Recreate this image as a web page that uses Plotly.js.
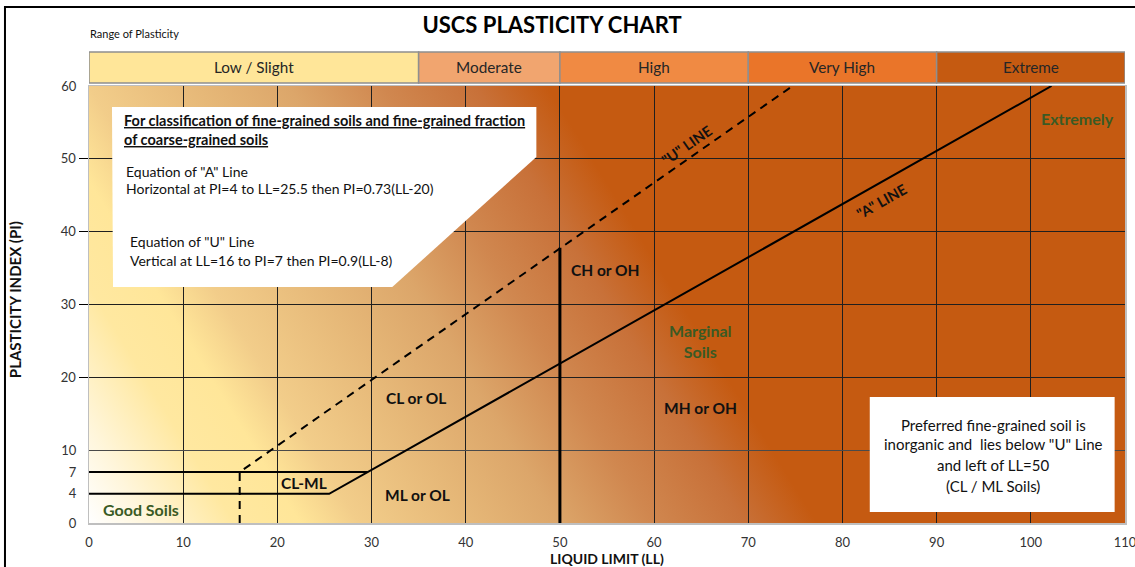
<!DOCTYPE html>
<html>
<head>
<meta charset="utf-8">
<script src="https://cdn.plot.ly/plotly-3.0.1.min.js"></script>
<style>html,body{margin:0;padding:0;background:#fff;}#chart{width:1135px;height:567px;}</style>
</head>
<body>
<div id="chart"></div>
<script>
// ---- data ----
const xTicks = [0, 10, 20, 30, 40, 50, 60, 70, 80, 90, 100, 110];
const yTicksMain = [20, 30, 40, 50];
const yTicksGrid10 = [10];
const yTicksPlain = [0, 4, 7, 60];

const aLineLL = [0, 25.5, 102.2];
const aLinePI = [4, 4, 60];
const pi7LL = [0, 29.6];
const pi7PI = [7, 7];
const uLineLL = [16, 16, 74.7];
const uLinePI = [0, 7, 60];
const ll50LL = [50, 50];
const ll50PI = [0, 37.8];

const bandNames = ['Low / Slight', 'Moderate', 'High', 'Very High', 'Extreme'];
const bandStart = [0, 35, 50, 70, 90];
const bandEnd = [35, 50, 70, 90, 110];
const bandColors = ['#FFE699', '#F1A56F', '#F08A43', '#EA7529', '#C55A11'];

const zoneLabels = ['CL or OL', 'ML or OL', 'CL-ML', 'CH or OH', 'MH or OH'];
const zoneLL = [34.7, 34.9, 22.8, 54.8, 64.9];
const zonePI = [17.2, 3.85, 5.5, 34.7, 15.8];

const greenLabels = ['Good Soils', 'Marginal<br>Soils', 'Extremely'];
const greenLL = [5.5, 64.9, 105.0];
const greenPI = [1.8, 25.0, 55.6];

const boxLines = [
  '<u><b>For classification of fine-grained soils and fine-grained fraction</b></u>',
  '<u><b>of coarse-grained soils</b></u>',
  'Equation of "A" Line',
  'Horizontal at PI=4 to LL=25.5 then PI=0.73(LL-20)',
  'Equation of "U" Line',
  'Vertical at LL=16 to PI=7 then PI=0.9(LL-8)'
];
const boxLineLL = [3.5, 3.5, 3.7, 3.7, 4.1, 4.1];
const boxLinePI = [55.2, 52.6, 48.3, 45.9, 38.7, 36.1];
const boxLineBold = [true, true, false, false, false, false];

const noteLines = ['Preferred fine-grained soil is', 'inorganic and  lies below "U" Line', 'and left of LL=50', '(CL / ML Soils)'];
const notePI = [13.5, 10.85, 7.96, 5.1];

// ---- styling ----
const FONT = 'Lato, "Open Sans", sans-serif';
const GRID = '#1f1f1f';
const GREEN = '#3A5A24';

const gradSvg = "<svg xmlns='http://www.w3.org/2000/svg' width='1036' height='437' viewBox='0 0 1036 437' preserveAspectRatio='none'>" +
  "<defs><linearGradient id='g' gradientUnits='userSpaceOnUse' x1='0' y1='437' x2='527' y2='111.5'>" +
  "<stop offset='0' stop-color='#FFFFFF'/>" +
  "<stop offset='0.08' stop-color='#FFF6DC'/>" +
  "<stop offset='0.2' stop-color='#FFE8A0'/>" +
  "<stop offset='0.29' stop-color='#FFE699'/>" +
  "<stop offset='0.37' stop-color='#F2CD8A'/>" +
  "<stop offset='0.52' stop-color='#E6B878'/>" +
  "<stop offset='0.645' stop-color='#DCA66A'/>" +
  "<stop offset='0.775' stop-color='#D0874F'/>" +
  "<stop offset='0.9' stop-color='#C87139'/>" +
  "<stop offset='1' stop-color='#C55A11'/>" +
  "</linearGradient></defs><rect width='1036' height='437' fill='url(#g)'/></svg>";
const gradSrc = 'data:image/svg+xml;base64,' + btoa(gradSvg);

const lineStyle = {color: '#000', width: 2};
const traces = [
  {x: aLineLL, y: aLinePI, mode: 'lines', line: lineStyle, hoverinfo: 'skip', showlegend: false},
  {x: pi7LL, y: pi7PI, yaxis: 'y2', mode: 'lines', line: lineStyle, hoverinfo: 'skip', showlegend: false},
  {x: uLineLL, y: uLinePI, yaxis: 'y3', mode: 'lines', line: {color: '#000', width: 2, dash: '8px,6px'}, hoverinfo: 'skip', showlegend: false},
  {x: ll50LL, y: ll50PI, mode: 'lines', line: {color: '#000', width: 3}, hoverinfo: 'skip', showlegend: false}
];

const shapes = [];
const annotations = [];

const bandY0 = 1.0069, bandY1 = 1.0778;
bandNames.forEach((n, i) => {
  shapes.push({type: 'rect', xref: 'x', yref: 'paper', x0: bandStart[i], x1: bandEnd[i], y0: bandY0, y1: bandY1,
    fillcolor: bandColors[i], line: {color: '#8f8f8f', width: 1.5}, layer: 'above'});
  annotations.push({xref: 'x', yref: 'paper', x: (bandStart[i] + bandEnd[i]) / 2, y: (bandY0 + bandY1) / 2,
    text: n, showarrow: false, font: {family: FONT, size: 15.3, color: '#262626'}, xanchor: 'center', yanchor: 'middle'});
});

shapes.push({type: 'path', xref: 'x', yref: 'y', layer: 'above',
  path: 'M 2.44 57.1 L 47.5 57.1 L 47.5 50.25 L 32.2 32.4 L 2.55 32.4 Z',
  fillcolor: '#FFFFFF', line: {width: 0}});
shapes.push({type: 'rect', xref: 'x', yref: 'y', layer: 'above', x0: 82.9, x1: 108.9, y0: 1.5, y1: 17.3,
  fillcolor: '#FFFFFF', line: {width: 0}});
shapes.push({type: 'rect', xref: 'paper', yref: 'paper', x0: -0.0811, x1: 1.03, y0: -0.2, y1: 1.1808,
  line: {color: '#000', width: 2}, fillcolor: 'rgba(0,0,0,0)'});

boxLines.forEach((t, i) => {
  annotations.push({xref: 'x', yref: 'y', x: boxLineLL[i], y: boxLinePI[i], text: t, showarrow: false,
    xanchor: 'left', yanchor: 'middle', font: {family: FONT, size: boxLineBold[i] ? 14.5 : 14, color: '#111'}});
});
noteLines.forEach((t, i) => {
  annotations.push({xref: 'x', yref: 'y', x: 96.0, y: notePI[i], text: t, showarrow: false,
    xanchor: 'center', yanchor: 'middle', font: {family: FONT, size: 15, color: '#111'}});
});
zoneLabels.forEach((t, i) => {
  annotations.push({xref: 'x', yref: 'y', x: zoneLL[i], y: zonePI[i], text: '<b>' + t + '</b>', showarrow: false,
    font: {family: FONT, size: 15.5, color: '#111'}});
});
greenLabels.forEach((t, i) => {
  annotations.push({xref: 'x', yref: 'y', x: greenLL[i], y: greenPI[i], text: '<b>' + t + '</b>', showarrow: false,
    font: {family: FONT, size: 16, color: GREEN}});
});
annotations.push({xref: 'x', yref: 'y', x: 63.4, y: 51.9, text: '<b>"U" LINE</b>', showarrow: false, textangle: -34.8,
  font: {family: FONT, size: 14.5, color: '#111'}});
annotations.push({xref: 'x', yref: 'y', x: 84.1, y: 44.2, text: '<b>"A" LINE</b>', showarrow: false, textangle: -29.4,
  font: {family: FONT, size: 14.5, color: '#111'}});
annotations.push({xref: 'paper', yref: 'paper', x: -0.0010, y: 1.1190, text: 'Range of Plasticity', showarrow: false,
  xanchor: 'left', yanchor: 'middle', font: {family: FONT, size: 11, color: '#111'}});
annotations.push({xref: 'paper', yref: 'paper', x: 0.5, y: -0.0801, text: '<b>LIQUID LIMIT (LL)</b>', showarrow: false,
  xanchor: 'center', yanchor: 'middle', font: {family: FONT, size: 14, color: '#111'}});
annotations.push({xref: 'paper', yref: 'paper', x: -0.0714, y: 0.510, text: '<b>PLASTICITY INDEX (PI)</b>', showarrow: false,
  textangle: -90, xanchor: 'center', yanchor: 'middle', font: {family: FONT, size: 15, color: '#111'}});

const tickFont = {family: FONT, size: 13, color: '#333'};
const yCommon = {range: [0, 60], zeroline: false, fixedrange: true, tickmode: 'array',
  tickfont: tickFont, ticks: 'outside', ticklen: 9};

const layout = {
  width: 1135, height: 567,
  margin: {l: 89, r: 10, t: 86, b: 44},
  paper_bgcolor: '#FFFFFF', plot_bgcolor: 'rgba(0,0,0,0)',
  font: {family: FONT, color: '#111'},
  title: {text: '<b>USCS PLASTICITY CHART</b>', x: 552 / 1135, xanchor: 'center', y: 1 - 25.5 / 567, yanchor: 'middle',
    font: {family: FONT, size: 22, color: '#000'}},
  xaxis: {range: [0, 110], tickmode: 'array', tickvals: xTicks, showgrid: true, gridcolor: GRID, gridwidth: 1,
    showline: true, linecolor: '#BFBFBF', linewidth: 1.5, mirror: true, zeroline: false, ticks: '', fixedrange: true,
    ticklabelstandoff: 7, ticklabeloverflow: 'allow', tickfont: tickFont},
  yaxis: Object.assign({}, yCommon, {tickvals: yTicksMain, showgrid: true, gridcolor: GRID, tickcolor: '#000',
    showline: true, linecolor: '#BFBFBF', linewidth: 1.5, mirror: true}),
  yaxis2: Object.assign({}, yCommon, {overlaying: 'y', anchor: 'x', side: 'left', tickvals: yTicksGrid10,
    showgrid: true, gridcolor: '#4a4a4a', tickcolor: 'rgba(0,0,0,0)', showline: false}),
  yaxis3: Object.assign({}, yCommon, {overlaying: 'y', anchor: 'x', side: 'left', tickvals: yTicksPlain,
    showgrid: false, tickcolor: 'rgba(0,0,0,0)', showline: false}),
  images: [{source: gradSrc, xref: 'x', yref: 'y', x: 0, y: 60, sizex: 110, sizey: 60, sizing: 'stretch',
    xanchor: 'left', yanchor: 'top', layer: 'below'}],
  shapes: shapes,
  annotations: annotations,
  showlegend: false
};

Plotly.newPlot('chart', traces, layout, {staticPlot: true, displayModeBar: false});
</script>
</body>
</html>
